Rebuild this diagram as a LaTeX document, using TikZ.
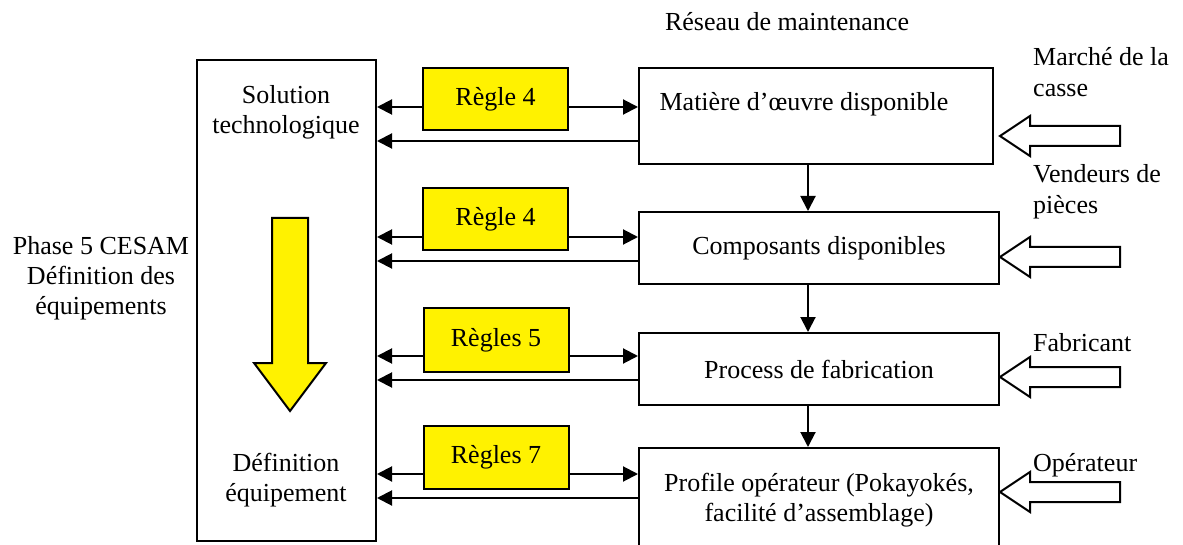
\documentclass[tikz,border=0pt]{standalone}
\usepackage{fontspec}
\setmainfont{Liberation Serif}
\usetikzlibrary{arrows.meta}
\begin{document}
\begin{tikzpicture}[x=1pt,y=-1pt,
  txt/.style={font=\fontsize{26}{30}\selectfont, align=center, inner sep=0pt},
  ltxt/.style={font=\fontsize{26}{31}\selectfont, align=left, anchor=west, inner sep=0pt},
  box/.style={draw, line width=2pt, inner sep=0pt},
  rulebox/.style={draw, line width=2pt, fill=yellow, minimum width=145pt, font=\fontsize{26}{30}\selectfont},
  arr/.style={line width=2pt, -{Triangle[length=15pt,width=15pt]}},
  hollow/.style={draw, line width=2pt, fill=white, line join=miter}]
\useasboundingbox (0,0) rectangle (1183,545);

% left column
\node[box, minimum width=179pt, minimum height=481pt] (L) at (286.5,300.5) {};
\node[txt] (Lt1) at (286,112) {Solution\\technologique};
\node[txt] (Lt2) at (286,480) {Définition\\équipement};
\draw[line width=2pt, fill=yellow, line join=miter]
  (272,218) -- (308,218) -- (308,363) -- (326,363) -- (290,411) -- (254,363) -- (272,363) -- cycle;
\node[txt] (phase) at (101,278) {Phase 5 CESAM\\Définition des\\équipements};

% title
\node[txt] (title) at (787,22) {Réseau de maintenance};

% rule boxes
\node[rulebox, minimum height=62pt] (R1) at (495.5,99) {Règle 4};
\node[rulebox, minimum height=62pt] (R2) at (495.5,219) {Règle 4};
\node[rulebox, minimum height=64pt] (R3) at (496,340) {Règles 5};
\node[rulebox, minimum height=63pt] (R4) at (496,457.5) {Règles 7};

% right boxes
\node[box, minimum width=354pt, minimum height=96pt] (B1) at (816,116) {};
\node[txt] (B1t) at (804,104) {Matière d’œuvre disponible};
\node[box, txt, draw, line width=2pt, minimum width=360pt, minimum height=72pt] (B2) at (819,248) {Composants disponibles};
\node[box, txt, draw, line width=2pt, minimum width=360pt, minimum height=72pt] (B3) at (819,369) {Process de fabrication};
\node[box, txt, draw, line width=2pt, minimum width=360pt, minimum height=104pt] (B4) at (819,500) {Profile opérateur (Pokayokés,\\facilité d’assemblage)};

% horizontal connectors
\draw[arr] (R1.west |- 0,107) -- (L.east |- 0,107);
\draw[arr] (R1.east |- 0,107) -- (B1.west |- 0,107);
\draw[arr] (B1.west |- 0,141) -- (L.east |- 0,141);

\draw[arr] (R2.west |- 0,237) -- (L.east |- 0,237);
\draw[arr] (R2.east |- 0,237) -- (B2.west |- 0,237);
\draw[arr] (B2.west |- 0,261) -- (L.east |- 0,261);

\draw[arr] (R3.west |- 0,356) -- (L.east |- 0,356);
\draw[arr] (R3.east |- 0,356) -- (B3.west |- 0,356);
\draw[arr] (B3.west |- 0,380) -- (L.east |- 0,380);

\draw[arr] (R4.west |- 0,474) -- (L.east |- 0,474);
\draw[arr] (R4.east |- 0,474) -- (B4.west |- 0,474);
\draw[arr] (B4.west |- 0,498) -- (L.east |- 0,498);

% vertical connectors
\draw[arr] (B1.south -| 808,0) -- (B2.north -| 808,0);
\draw[arr] (B2.south -| 808,0) -- (B3.north -| 808,0);
\draw[arr] (B3.south -| 808,0) -- (B4.north -| 808,0);

% hollow input arrows
\foreach \yc in {136,257,377,492}
  \draw[hollow] (1000,\yc) -- (1030,\yc-20) -- (1030,\yc-10) -- (1120,\yc-10)
    -- (1120,\yc+10) -- (1030,\yc+10) -- (1030,\yc+20) -- cycle;

% input labels
\node[ltxt] (in1) at (1033,72) {Marché de la\\casse};
\node[ltxt] (in2) at (1033,192) {Vendeurs de\\pièces};
\node[ltxt] (in3) at (1033,343) {Fabricant};
\node[ltxt] (in4) at (1033,465) {Opérateur};
\end{tikzpicture}
\end{document}
